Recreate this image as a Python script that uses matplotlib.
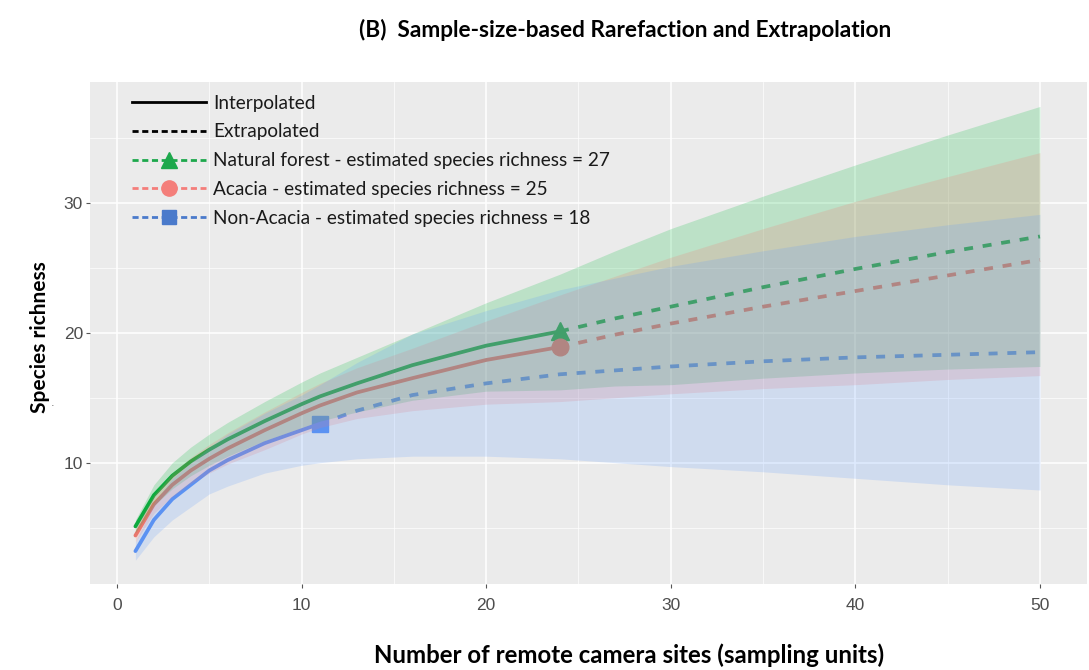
import matplotlib
matplotlib.use("Agg")
import matplotlib.pyplot as plt
from matplotlib.lines import Line2D
from matplotlib.ticker import MultipleLocator

# ---- data ----
sites = [1, 2, 3, 4, 5, 6, 8, 10, 11, 13, 16, 20, 24, 27, 30, 35, 40, 45, 50]

forest_mean = [5.1, 7.5, 9.0, 10.1, 11.0, 11.8, 13.2, 14.5, 15.1, 16.1, 17.5, 19.0, 20.1, 21.1, 22.0, 23.5, 24.9, 26.2, 27.4]
forest_lo = [4.6, 6.7, 8.0, 9.0, 9.8, 10.5, 11.7, 12.7, 13.2, 13.9, 14.8, 15.5, 15.6, 15.9, 16.0, 16.5, 16.9, 17.2, 17.4]
forest_hi = [5.6, 8.3, 10.0, 11.2, 12.2, 13.1, 14.7, 16.2, 16.9, 18.1, 19.9, 22.3, 24.5, 26.3, 28.0, 30.5, 32.9, 35.2, 37.4]

acacia_mean = [4.4, 6.8, 8.3, 9.4, 10.3, 11.1, 12.5, 13.8, 14.4, 15.4, 16.5, 17.9, 18.9, 19.85, 20.7, 22.0, 23.2, 24.4, 25.6]
acacia_lo = [3.9, 6.1, 7.4, 8.4, 9.2, 9.9, 11.0, 12.2, 12.7, 13.4, 14.0, 14.5, 14.7, 15.0, 15.3, 15.7, 16.0, 16.4, 16.7]
acacia_hi = [4.9, 7.5, 9.2, 10.4, 11.4, 12.3, 13.9, 15.4, 16.1, 17.3, 18.8, 20.9, 22.9, 24.35, 25.8, 28.0, 30.1, 32.0, 33.85]

nonacacia_mean = [3.2, 5.6, 7.2, 8.3, 9.4, 10.2, 11.5, 12.5, 13.0, 14.0, 15.2, 16.1, 16.8, 17.1, 17.4, 17.8, 18.1, 18.3, 18.5]
nonacacia_lo = [2.5, 4.3, 5.6, 6.6, 7.6, 8.2, 9.2, 9.8, 10.0, 10.3, 10.5, 10.5, 10.3, 10.0, 9.7, 9.3, 8.8, 8.3, 7.9]
nonacacia_hi = [3.9, 6.9, 8.8, 10.0, 11.2, 12.2, 13.8, 15.2, 16.0, 17.7, 19.9, 21.7, 23.3, 24.2, 25.1, 26.3, 27.4, 28.3, 29.1]

series_names = ["Natural forest", "Acacia", "Non-Acacia"]
observed_sites = [24, 24, 11]
estimated_richness = [27, 25, 18]

# ---- style ----
colors = ["#00BA38", "#F8766D", "#619CFF"]
line_colors = ["#0FA840", "#E8766D", "#5A90F0"]
markers = ["^", "o", "s"]
msizes = [13, 12, 11]
legend_colors = ["#1DA84C", "#F47E7A", "#4A7ACB"]

means = [forest_mean, acacia_mean, nonacacia_mean]
los = [forest_lo, acacia_lo, nonacacia_lo]
his = [forest_hi, acacia_hi, nonacacia_hi]

fig = plt.figure(figsize=(10.89, 6.70), dpi=100)
ax = fig.add_axes([90 / 1089, 1 - 584 / 670, (1087 - 90) / 1089, (584 - 82) / 670])
ax.set_facecolor("#EBEBEB")
for s in ax.spines.values():
    s.set_visible(False)

ax.set_xlim(-1.46, 52.55)
ax.set_ylim(0.67, 39.28)
ax.xaxis.set_major_locator(MultipleLocator(10))
ax.xaxis.set_minor_locator(MultipleLocator(5))
ax.yaxis.set_major_locator(MultipleLocator(10))
ax.yaxis.set_minor_locator(MultipleLocator(5))
ax.set_yticks([10, 20, 30])
ax.grid(which="major", color="white", lw=1.1)
ax.grid(which="minor", color="white", lw=0.5)
ax.set_axisbelow(True)
ax.tick_params(which="major", length=3, width=0.8, color="#555555",
               labelsize=12.5, labelcolor="#4D4D4D")
ax.tick_params(axis="y", pad=2)
ax.tick_params(axis="x", pad=7)
ax.tick_params(which="minor", length=0)
for lab in ax.get_xticklabels() + ax.get_yticklabels():
    lab.set_fontfamily("Liberation Sans")

for i in range(3):
    obs = observed_sites[i]
    xs_in = [x for x in sites if x <= obs]
    ys_in = [y for x, y in zip(sites, means[i]) if x <= obs]
    xs_ex = [x for x in sites if x >= obs]
    ys_ex = [y for x, y in zip(sites, means[i]) if x >= obs]
    ax.plot(xs_in, ys_in, color=line_colors[i], lw=2.7, solid_capstyle="round",
            solid_joinstyle="round", zorder=3)
    ax.plot(xs_ex, ys_ex, color=line_colors[i], lw=2.7, dashes=(2.4, 2.6), zorder=3)
    ax.plot([obs], [means[i][sites.index(obs)]], marker=markers[i], ms=msizes[i],
            color=line_colors[i], ls="none", zorder=3)

for i in range(3):
    ax.fill_between(sites, los[i], his[i], color=colors[i], alpha=0.2, lw=0, zorder=4)

# ---- legend ----
handles = [
    Line2D([], [], color="black", lw=2, ls="-"),
    Line2D([], [], color="black", lw=2, dashes=(2.2, 1.3)),
]
labels = ["Interpolated", "Extrapolated"]
for i in range(3):
    handles.append(Line2D([], [], color=legend_colors[i], lw=2, dashes=(2.2, 1.3),
                          marker=markers[i], ms=msizes[i] - 1))
    labels.append(f"{series_names[i]} - estimated species richness = {estimated_richness[i]}")

leg = ax.legend(handles, labels, loc="upper left", bbox_to_anchor=(0.0345, 0.99),
                frameon=False, prop={"family": "Lato", "size": 13.7},
                handlelength=3.9, handletextpad=0.38, labelspacing=0.62,
                borderaxespad=0, numpoints=1)
for t in leg.get_texts():
    t.set_color("#1A1A1A")

# ---- titles ----
fig.text(625 / 1089, 1 - 30 / 670, "(B)  Sample-size-based Rarefaction and Extrapolation",
         ha="center", va="center", fontsize=16.3, fontweight="bold", family="Lato")
fig.text(629 / 1089, 1 - 655 / 670, "Number of remote camera sites (sampling units)",
         ha="center", va="center", fontsize=17.3, fontweight="bold", family="Lato")
fig.text(40 / 1089, 1 - 337 / 670, "Species richness", rotation=90,
         ha="center", va="center", fontsize=15, fontweight="bold", family="Lato")
fig.text(53 / 1089, 1 - 403 / 670, ".", ha="center", va="center", fontsize=8,
         color="#666666")

fig.savefig("out.png", dpi=100, facecolor="white")
